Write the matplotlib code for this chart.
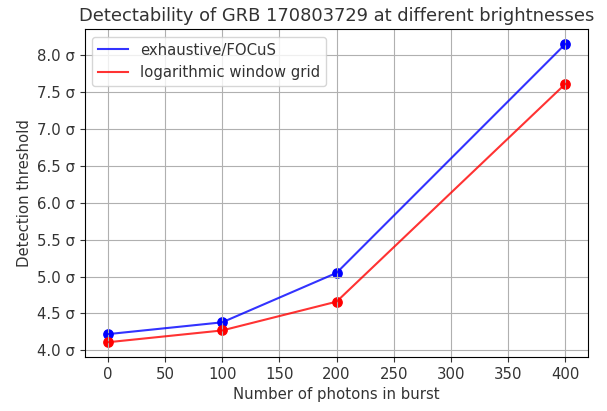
import matplotlib
matplotlib.use("Agg")
import matplotlib.pyplot as plt
from matplotlib.ticker import FuncFormatter

# datos
photons = [0, 100, 200, 400]
exhaustive = [4.22, 4.38, 5.05, 8.15]
log_grid = [4.11, 4.27, 4.66, 7.61]

fig = plt.figure(figsize=(6.07, 4.11), dpi=100)
ax = fig.add_axes([0.140, 0.131, 0.829, 0.798])

ax.plot(photons, exhaustive, color="blue", alpha=0.8, label="exhaustive/FOCuS")
ax.plot(photons, log_grid, color="red", alpha=0.8, label="logarithmic window grid")
ax.scatter(photons, exhaustive, color="blue", s=45)
ax.scatter(photons, log_grid, color="red", s=45)

ax.yaxis.set_major_formatter(FuncFormatter(lambda v, p: f"{v:.1f} σ"))
ax.tick_params(labelsize=10.7, colors="#333333", labelcolor="#333333")
ax.set_xlabel("Number of photons in burst", fontsize=10.7, color="#333333")
ax.set_ylabel("Detection threshold", fontsize=10.7, color="#333333")
ax.set_title("Detectability of GRB 170803729 at different brightnesses", fontsize=12.9, color="#333333")
ax.grid(True)
leg = ax.legend(fontsize=10.7, loc="upper left")
for t in leg.get_texts():
    t.set_color("#333333")

fig.savefig("out.png", dpi=100)
